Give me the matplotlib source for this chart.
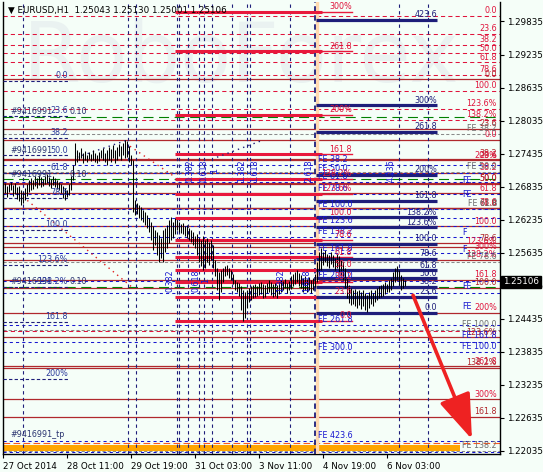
import matplotlib.pyplot as plt
from matplotlib.patches import FancyArrowPatch

# ---- data -------------------------------------------------------------
title = "EURUSD,H1  1.25043 1.25130 1.25001 1.25106"
last_price = 1.25106

highs = [1.2686, 1.2690, 1.2685, 1.2688, 1.2692, 1.2686, 1.2690, 1.2683, 1.2685, 1.2677,
         1.2674, 1.2681, 1.2688, 1.2696, 1.2699, 1.2696, 1.2703, 1.2699, 1.2705, 1.2701,
         1.2697, 1.2703, 1.2706, 1.2701, 1.2697, 1.2703, 1.2699, 1.2696, 1.2692, 1.2688,
         1.2685, 1.2681, 1.2677, 1.2688, 1.2703, 1.2723, 1.2763, 1.2750, 1.2747, 1.2754,
         1.2745, 1.2748, 1.2741, 1.2747, 1.2743, 1.2750, 1.2745, 1.2741, 1.2747, 1.2750,
         1.2754, 1.2745, 1.2750, 1.2756, 1.2752, 1.2759, 1.2750, 1.2756, 1.2761, 1.2757,
         1.2763, 1.2768, 1.2767, 1.2757, 1.2741, 1.2732, 1.2659, 1.2654, 1.2650, 1.2646,
         1.2641, 1.2637, 1.2632, 1.2626, 1.2619, 1.2612, 1.2605, 1.2601, 1.2596, 1.2590,
         1.2605, 1.2608, 1.2614, 1.2623, 1.2628, 1.2619, 1.2626, 1.2623, 1.2619, 1.2616,
         1.2617, 1.2612, 1.2614, 1.2608, 1.2605, 1.2601, 1.2594, 1.2598, 1.2590, 1.2587,
         1.2594, 1.2587, 1.2590, 1.2583, 1.2587, 1.2578, 1.2550, 1.2536, 1.2529, 1.2532,
         1.2536, 1.2540, 1.2541, 1.2536, 1.2532, 1.2525, 1.2514, 1.2511, 1.2509, 1.2503,
         1.2496, 1.2492, 1.2496, 1.2500, 1.2503, 1.2505, 1.2507, 1.2503, 1.2509, 1.2511,
         1.2507, 1.2505, 1.2509, 1.2514, 1.2511, 1.2507, 1.2509, 1.2505, 1.2511, 1.2514,
         1.2512, 1.2516, 1.2509, 1.2512, 1.2521, 1.2525, 1.2529, 1.2532, 1.2527, 1.2523,
         1.2518, 1.2521, 1.2516, 1.2520, 1.2514, 1.2518, 1.2525, 1.2547, 1.2565, 1.2572,
         1.2565, 1.2568, 1.2561, 1.2559, 1.2565, 1.2559, 1.2554, 1.2561, 1.2558, 1.2550,
         1.2547, 1.2536, 1.2518, 1.2505, 1.2500, 1.2496, 1.2498, 1.2494, 1.2496, 1.2492,
         1.2496, 1.2491, 1.2487, 1.2492, 1.2496, 1.2491, 1.2496, 1.2500, 1.2503, 1.2505,
         1.2507, 1.2511, 1.2507, 1.2514, 1.2518, 1.2529, 1.2536, 1.2540, 1.2532, 1.2523,
         1.2518, 1.2514]
lows = [1.2668, 1.2672, 1.2665, 1.2674, 1.2677, 1.2666, 1.2670, 1.2661, 1.2657, 1.2650,
        1.2654, 1.2659, 1.2666, 1.2674, 1.2677, 1.2679, 1.2685, 1.2681, 1.2686, 1.2683,
        1.2685, 1.2688, 1.2690, 1.2685, 1.2681, 1.2686, 1.2683, 1.2679, 1.2677, 1.2672,
        1.2663, 1.2659, 1.2665, 1.2668, 1.2677, 1.2696, 1.2723, 1.2728, 1.2732, 1.2736,
        1.2727, 1.2732, 1.2728, 1.2734, 1.2730, 1.2732, 1.2728, 1.2727, 1.2730, 1.2736,
        1.2732, 1.2728, 1.2723, 1.2732, 1.2728, 1.2736, 1.2727, 1.2732, 1.2739, 1.2732,
        1.2741, 1.2736, 1.2737, 1.2728, 1.2723, 1.2637, 1.2632, 1.2634, 1.2626, 1.2623,
        1.2619, 1.2614, 1.2608, 1.2601, 1.2587, 1.2568, 1.2578, 1.2559, 1.2547, 1.2554,
        1.2547, 1.2565, 1.2572, 1.2581, 1.2587, 1.2590, 1.2598, 1.2605, 1.2601, 1.2599,
        1.2598, 1.2594, 1.2590, 1.2587, 1.2583, 1.2578, 1.2572, 1.2559, 1.2547, 1.2540,
        1.2532, 1.2536, 1.2547, 1.2541, 1.2550, 1.2536, 1.2521, 1.2496, 1.2478, 1.2492,
        1.2511, 1.2521, 1.2523, 1.2518, 1.2514, 1.2507, 1.2496, 1.2492, 1.2485, 1.2460,
        1.2440, 1.2445, 1.2463, 1.2474, 1.2478, 1.2482, 1.2483, 1.2485, 1.2487, 1.2489,
        1.2482, 1.2483, 1.2491, 1.2492, 1.2487, 1.2483, 1.2485, 1.2482, 1.2489, 1.2492,
        1.2496, 1.2500, 1.2491, 1.2496, 1.2498, 1.2503, 1.2507, 1.2511, 1.2503, 1.2500,
        1.2492, 1.2496, 1.2492, 1.2496, 1.2491, 1.2496, 1.2501, 1.2511, 1.2523, 1.2532,
        1.2541, 1.2547, 1.2540, 1.2536, 1.2543, 1.2538, 1.2532, 1.2536, 1.2529, 1.2523,
        1.2514, 1.2500, 1.2482, 1.2472, 1.2469, 1.2471, 1.2467, 1.2463, 1.2469, 1.2462,
        1.2467, 1.2460, 1.2456, 1.2463, 1.2471, 1.2467, 1.2474, 1.2478, 1.2482, 1.2483,
        1.2485, 1.2489, 1.2492, 1.2492, 1.2496, 1.2503, 1.2511, 1.2514, 1.2505, 1.2496,
        1.2500, 1.2503]

date_ticks = [0, 32, 64, 96, 128, 160, 192]
date_labels = ["27 Oct 2014", "28 Oct 11:00", "29 Oct 19:00", "31 Oct 03:00",
               "3 Nov 11:00", "4 Nov 19:00", "6 Nov 03:00"]
price_ticks = [1.29835, 1.29235, 1.28635, 1.28035, 1.27435, 1.26835, 1.26235,
               1.25635, 1.25035, 1.24435, 1.23835, 1.23235, 1.22635, 1.22035]

# fibo objects: anchor prices for 0 and 100 levels, levels, texts
fa_p0, fa_p100 = 1.29935, 1.28573
fa_levels = [0, 23.6, 38.2, 50, 61.8, 78.6, 100, 123.6, 138.2]
fa_text = ["0.0", "23.6", "38.2", "50.0", "61.8", "78.6", "100.0", "123.6%", "138.2%"]

fb_p0, fb_p100 = 1.24395, 1.26266
fb_levels = [0, 23.6, 38.2, 50, 61.8, 78.6, 100, 123.6, 138.2, 161.8, 200, 261.8, 300]
fb_text = ["0.0", "23.6", "38.2", "50.0", "61.8", "78.6", "100.0", "123.6%", "138.2%",
           "161.8", "200%", "261.8", "300%"]

fc_p0, fc_p100 = 1.24541, 1.25798
fc_levels = [0, 23.6, 38.2, 50, 61.8, 78.6, 100, 123.6, 138.2, 161.8, 200, 261.8, 300, 423.6]
fc_text = ["0.0", "23.6", "38.2", "50.0", "61.8", "78.6", "100.0", "123.6%", "138.2%",
           "161.8", "200%", "261.8", "300%", "423.6"]

fk_p0, fk_p100 = 1.27683, 1.26112
fk_levels = [0, 23.6, 38.2, 50, 61.8, 78.6, 100, 123.6, 138.2, 161.8, 200, 261.8, 300]
fk_text = ["0.0", "23.6", "38.2", "50.0", "61.8", "78.6", "100.0", "123.6%", "138.2%",
           "161.8", "200%", "261.8", "300%"]

fm_p0, fm_p100 = 1.28785, 1.24995
fm_levels = [0, 23.6, 38.2, 50, 61.8, 78.6, 100, 123.6, 138.2, 161.8]
fm_text = ["0.0", "23.6", "38.2", "50.0", "61.8", "78.6", "100.0", "123.6%", "138.2%", "161.8"]

fl_p0, fl_p100 = 1.28755, 1.26049
fl_levels = [0, 23.6, 38.2, 50, 61.8, 78.6, 100, 123.6, 138.2, 161.8, 200]
fl_text = ["0.0", "23.6", "38.2", "50.0", "61.8", "78.6", "100.0", "123.6%", "138.2%",
           "161.8", "200%"]

ff_p0, ff_p100 = 1.27726, 1.26426
ff_levels = [38.2, 50, 61.8, 78.6, 100, 123.6, 138.2, 161.8, 200, 261.8, 300, 423.6]
ff_text = ["FE 38.2", "FE 50.0", "FE 61.8", "FE 78.6", "FE 100.0", "FE 123.6", "FE 138.2",
           "FE 161.8", "FE 200.0", "FE 261.8", "FE 300.0", "FE 423.6"]

fg_p0, fg_p100 = 1.29984, 1.24236
fg_levels = [38.2, 50, 61.8, 78.6, 100, 138.2]
fg_text = ["FE 38.2", "FE 50.0", "FE 61.8", "FE 78.6", "FE 100.0", "FE 138.2"]

navy_extra = [1.2626, 1.2491, 1.24014, 1.22017]
order_lines = [1.28101, 1.2697, 1.2501]
sl_line = 1.2739
crimson_extra = [1.24214]
tp_line = 1.22180
tp_band = (1.22035, 1.22144)

vlines_bars = [10, 62.5, 66.5, 87, 88, 92.5, 98, 100.5, 104.5, 114.5, 122, 123.5, 143.5, 198, 212.5]
vline_main = 156
zone_top = [("0.382", 93.5), ("0.618", 100.5), ("1", 106), ("1.382", 119.5),
            ("1.618", 126), ("2.618", 153), ("4.236", 194)]
zone_low = [("0.382", 83.5), ("0.618", 96.5), ("1", 101.5), ("1.382", 139), ("1.618", 152)]

blue_right = [("FE", 1.2694), ("FE", 1.2668), ("F", 1.2599), ("F", 1.2568),
              ("FE", 1.2501), ("FE", 1.2465)]
blue_right_full = [("FE 161.8", 1.24123), ("FE 100.0", 1.23924)]
crimson_right = [("200%", 1.2739), ("300%", 1.2574)]

red_dots = [((10, 1.2665), (64.5, 1.2501)), ((63.5, 1.2757), (86, 1.2701))]
navy_dots = [((37, 1.2737), (62, 1.2768)), ((107, 1.2737), (130, 1.2768))]
arrow_from, arrow_to = (204.5, 1.2491), (235, 1.2220)

# ---- drawing -------------------------------------------------------------
bg = '#F5FEF8'
crimson = '#E0143C'
darkred = '#B0282D'
navy = '#1E1E7A'
blue = '#1818D0'

fig = plt.figure(figsize=(5.43, 4.72), dpi=100, facecolor=bg)
ax = fig.add_axes([3 / 543, 18 / 472, 497 / 543, 452 / 472], facecolor=bg)
ax.set_xlim(0, 248.5)
ax.set_ylim(1.21980, 1.30189)
XR = 247  # right label anchor
FS = 5.8


def lvl(p0, p100, lv):
    return p0 + (p100 - p0) * lv / 100.0


def label(x, p, s, color, ha='right', va='bottom'):
    ax.annotate(s, (x, p), xytext=(0, 0.5), textcoords='offset points', ha=ha, va=va,
                fontsize=FS, color=color, zorder=6, annotation_clip=False)


ax.text(0.04, 0.965, 'RoboForex', transform=ax.transAxes, fontsize=60, color='#EAF2F1',
        va='top', ha='left', zorder=0.5)

# full width fib lines
for lv, s in zip(fa_levels, fa_text):
    p = lvl(fa_p0, fa_p100, lv)
    ax.axhline(p, color=crimson, lw=0.75, ls=(0, (4, 3)), zorder=2)
    label(XR, p, s, crimson)
for lv, s in zip(fk_levels, fk_text):
    p = lvl(fk_p0, fk_p100, lv)
    ax.axhline(p, color=darkred, lw=0.9, zorder=2)
    label(XR, p, s, crimson)
for lv, s in zip(fm_levels, fm_text):
    p = lvl(fm_p0, fm_p100, lv)
    ax.axhline(p, color=darkred, lw=0.9, zorder=2)
    label(XR, p, s, darkred)
for lv, s in zip(fg_levels, fg_text):
    p = lvl(fg_p0, fg_p100, lv)
    ax.axhline(p, color='#8A8A8A', lw=0.75, ls=(0, (3, 2)), zorder=2)
    label(XR, p, s, '#6E6E6E')
for lv, s in zip(ff_levels, ff_text):
    p = lvl(ff_p0, ff_p100, lv)
    ax.axhline(p, color=blue, lw=0.75, ls=(0, (3, 3)), zorder=2)
    label(157.5, p, s, blue, ha='left')
for p in navy_extra:
    ax.axhline(p, color=blue, lw=0.75, ls=(0, (3, 3)), zorder=2)
for p in crimson_extra:
    ax.axhline(p, color=crimson, lw=0.75, ls=(0, (4, 3)), zorder=2)
for p in order_lines:
    ax.axhline(p, color='#008000', lw=0.8, ls=(0, (9, 5)), zorder=2)
    label(3.5, p, '#9416991', '#2A3470', ha='left')
    label(33.5, p, '0.10', '#2A3470', ha='left')
label(3.5, sl_line, '#9416991', '#2A3470', ha='left')
ax.axhline(tp_line, color='#FF5A1E', lw=0.8, ls=(0, (6, 3)), zorder=2)
label(3.5, tp_line + 0.0006, '#9416991_tp', '#2A3470', ha='left')
ax.fill_between([0, 228.5], tp_band[0], tp_band[1], color='#FFA500', lw=0, zorder=2.5)

# left fibo (short dashed)
for lv, s in zip(fl_levels, fl_text):
    p = lvl(fl_p0, fl_p100, lv)
    ax.plot([0, 32.5], [p, p], color=navy, lw=0.8, ls=(0, (3, 2)), zorder=3)
    label(32.5, p, s, '#2A3A9A')

# fibo segments
for lv, s in zip(fb_levels, fb_text):
    p = lvl(fb_p0, fb_p100, lv)
    ax.plot([86, 159.5], [p, p], color='#E8193C', lw=2.2, solid_capstyle='butt', zorder=3)
    ax.plot([159.5, 174.5], [p, p], color='#E8193C', lw=1.0, zorder=3)
    label(174.5, p, s, crimson)
for lv, s in zip(fc_levels, fc_text):
    p = lvl(fc_p0, fc_p100, lv)
    ax.plot([156.5, 217], [p, p], color=navy, lw=2.3, solid_capstyle='butt', zorder=3)
    label(217, p, s, navy)

for s, p in blue_right:
    label(229.5, p, s, blue, ha='left', va='center')
for s, p in blue_right_full:
    label(XR, p, s, blue, va='center')
for s, p in crimson_right:
    label(XR, p, s, crimson, va='center')

# vertical lines
ax.axvline(vline_main + 0.75, color='#FFD9B0', lw=2.4, zorder=2.6)
ax.axvline(vline_main, color=navy, lw=1.3, ls=(0, (3, 2)), zorder=2.7)
for b in vlines_bars:
    ax.axvline(b, color=navy, lw=0.8, ls=(0, (3, 3)), zorder=2.7)
for s, b in zone_top:
    ax.text(b, 1.2712, s, rotation=90, ha='center', va='center', fontsize=FS, color=blue, zorder=6)
for s, b in zone_low:
    ax.text(b, 1.2513, s, rotation=90, ha='center', va='center', fontsize=FS, color=blue, zorder=6)

for a, b in red_dots:
    ax.plot([a[0], b[0]], [a[1], b[1]], color='#E02020', lw=1, ls=(0, (1, 3)), zorder=3)
for a, b in navy_dots:
    ax.plot([a[0], b[0]], [a[1], b[1]], color=navy, lw=1, ls=(0, (1, 3)), zorder=3)

# price bars
ax.vlines(range(len(highs)), lows, highs, color='black', lw=0.75, zorder=4)

arrow = FancyArrowPatch(arrow_from, arrow_to, arrowstyle='-|>,head_length=2.8,head_width=1.0',
                        mutation_scale=10, lw=2.6, color='#EE2222', zorder=7)
ax.add_patch(arrow)

# axes
ax.spines['top'].set_visible(False)
for side in ['left', 'right', 'bottom']:
    ax.spines[side].set_color('black')
    ax.spines[side].set_linewidth(1)
ax.yaxis.tick_right()
ax.set_yticks(price_ticks)
ax.set_yticklabels(['%.5f' % t for t in price_ticks])
ax.set_xticks(date_ticks)
ax.set_xticklabels(date_labels, ha='left')
ax.tick_params(axis='both', labelsize=6.3, length=3, width=0.8, colors='black', pad=2)
ax.tick_params(axis='x', pad=2.5)

ax.annotate('%.5f' % last_price, xy=(1, last_price), xycoords=('axes fraction', 'data'),
            xytext=(2.2, 0), textcoords='offset points', ha='left', va='center', fontsize=6.3,
            color='white', zorder=9, annotation_clip=False,
            bbox=dict(boxstyle='square,pad=0.2', fc='black', ec='black'))

fig.text(8 / 543, 1 - 10 / 472, '\u25bc ' + title, fontsize=6.3, color='black', va='center', ha='left')

fig.savefig('out.png', dpi=100, facecolor=bg)
